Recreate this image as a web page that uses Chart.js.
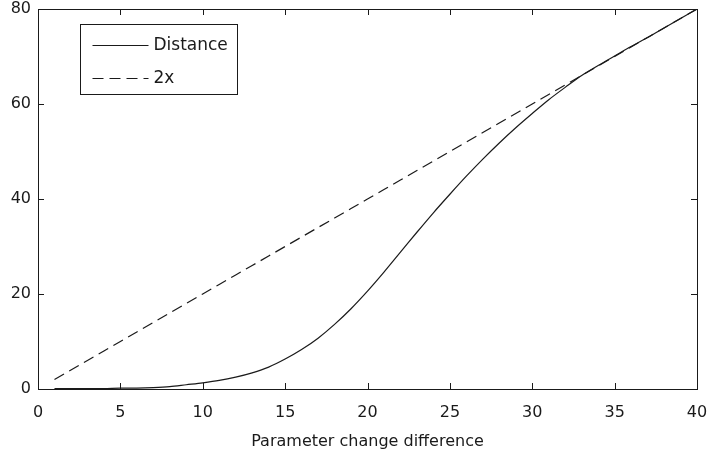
<!DOCTYPE html>
<html>
<head>
<meta charset="utf-8">
<script src="https://cdn.jsdelivr.net/npm/chart.js@4.4.0/dist/chart.umd.min.js"></script>
<style>
html,body{margin:0;padding:0;background:#fff;}
canvas{display:block;}
</style>
</head>
<body>
<canvas id="c" width="709" height="451"></canvas>
<script>
// ---- data ----
const xValues = [1,2,3,4,5,6,7,8,9,10,11,12,13,14,15,16,17,18,19,20,21,22,23,24,25,26,27,28,29,30,31,32,33,34,35,36,37,38,39,40];
const distance = [0.1,0.1,0.1,0.1,0.2,0.2,0.3,0.5,0.9,1.3,1.8,2.5,3.4,4.6,6.3,8.3,10.7,13.6,16.9,20.6,24.6,28.8,33.0,37.1,41.0,44.8,48.4,51.8,55.0,58.0,60.9,63.5,66.0,68.1,70.1,72.1,74.0,76.0,78.0,80];
const twoX = [2,4,6,8,10,12,14,16,18,20,22,24,26,28,30,32,34,36,38,40,42,44,46,48,50,52,54,56,58,60,62,64,66,68,70,72,74,76,78,80];
const seriesLabels = ['Distance', '2x'];
const xTitle = 'Parameter change difference';
const xRange = [0, 40];
const yRange = [0, 80];
const xStep = 5;
const yStep = 20;

const FONT = 'DejaVu Sans';
const INK = '#1a1a1a';

const toPts = (xs, ys) => xs.map((x, i) => ({x: x, y: ys[i]}));

const framePlugin = {
  id: 'frame',
  afterDatasetsDraw(chart) {
    const {ctx, chartArea: a, scales} = chart;
    ctx.save();
    ctx.strokeStyle = INK;
    ctx.lineWidth = 1;
    ctx.strokeRect(Math.round(a.left) + 0.5, Math.round(a.top) + 0.5, Math.round(a.right - a.left), Math.round(a.bottom - a.top));
    const L = 6;
    ctx.beginPath();
    scales.x.ticks.forEach(t => {
      const px = Math.round(scales.x.getPixelForValue(t.value)) + 0.5;
      ctx.moveTo(px, a.bottom); ctx.lineTo(px, a.bottom - L);
      ctx.moveTo(px, a.top); ctx.lineTo(px, a.top + L);
    });
    scales.y.ticks.forEach(t => {
      const py = Math.round(scales.y.getPixelForValue(t.value)) + 0.5;
      ctx.moveTo(a.left, py); ctx.lineTo(a.left + L, py);
      ctx.moveTo(a.right, py); ctx.lineTo(a.right - L, py);
    });
    ctx.stroke();

    // legend box inside the plot
    const bx = Math.round(a.left + 42) + 0.5, by = Math.round(a.top + 15) + 0.5, bw = 157, bh = 70;
    ctx.fillStyle = '#fff';
    ctx.fillRect(bx, by, bw, bh);
    ctx.strokeRect(bx, by, bw, bh);
    ctx.font = '17px "' + FONT + '"';
    ctx.textBaseline = 'middle';
    ctx.textAlign = 'left';
    chart.data.datasets.forEach((ds, i) => {
      const yy = by + 21 + i * 33;
      ctx.save();
      ctx.strokeStyle = ds.borderColor;
      ctx.lineWidth = ds.borderWidth;
      ctx.setLineDash(ds.borderDash || []);
      ctx.beginPath();
      ctx.moveTo(bx + 12, yy); ctx.lineTo(bx + 68, yy);
      ctx.stroke();
      ctx.restore();
      ctx.fillStyle = INK;
      ctx.fillText(ds.label, bx + 73, yy);
    });
    ctx.restore();
  }
};

new Chart(document.getElementById('c'), {
  type: 'line',
  data: {
    datasets: [
      {label: seriesLabels[0], data: toPts(xValues, distance), borderColor: INK, borderWidth: 1.2, pointRadius: 0, tension: 0.3, fill: false},
      {label: seriesLabels[1], data: toPts(xValues, twoX), borderColor: INK, borderWidth: 1.2, borderDash: [11, 6], pointRadius: 0, tension: 0, fill: false}
    ]
  },
  options: {
    responsive: false,
    animation: false,
    layout: {padding: {top: 9, right: 12, left: 0, bottom: 0}},
    plugins: {legend: {display: false}, tooltip: {enabled: false}},
    scales: {
      x: {
        type: 'linear', min: xRange[0], max: xRange[1],
        ticks: {stepSize: xStep, color: INK, font: {family: FONT, size: 16}, padding: 14, maxRotation: 0},
        grid: {display: false, drawTicks: false},
        border: {display: false},
        title: {display: true, text: xTitle, color: INK, font: {family: FONT, size: 16}, padding: {top: 2, bottom: 0}},
        afterFit(s) { s.height = 62; s.paddingLeft = 0; s.paddingRight = 0; }
      },
      y: {
        type: 'linear', min: yRange[0], max: yRange[1],
        ticks: {stepSize: yStep, color: INK, font: {family: FONT, size: 16}, padding: 7},
        grid: {display: false, drawTicks: false},
        border: {display: false},
        afterFit(s) { s.width = 38; s.paddingTop = 0; s.paddingBottom = 0; }
      }
    }
  },
  plugins: [framePlugin]
});
</script>
</body>
</html>
